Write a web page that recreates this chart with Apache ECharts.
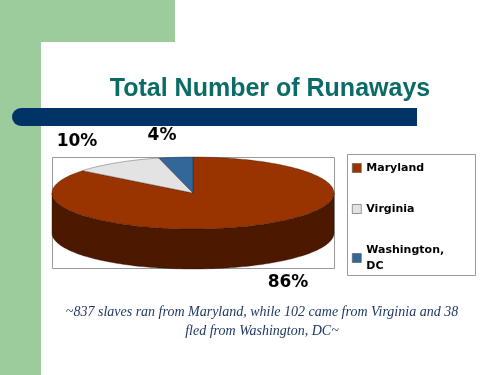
<!DOCTYPE html>
<html>
<head>
<meta charset="utf-8">
<script src="https://cdn.jsdelivr.net/npm/echarts@6/dist/echarts.min.js"></script>
<style>html,body{margin:0;padding:0;background:#fff}#c{width:500px;height:375px}</style>
</head>
<body>
<div id="c"></div>
<script>
const titleText = 'Total Number of Runaways';
const categories = ['Maryland', 'Virginia', 'Washington, DC'];
const runaways = [837, 102, 38];
const captionText = '~837 slaves ran from Maryland, while 102 came from Virginia and 38\nfled from Washington, DC~';

const topColors = ['#993300', '#E3E3E3', '#336699'];
const sideColors = ['#4C1900', '#9C9C9C', '#1F4A75'];

const total = runaways.reduce((a, b) => a + b, 0);
const pct = runaways.map(v => Math.round(v / total * 100) + '%');

const PIE = { cx: 193, cy: 193, rx: 141, ry: 36, depth: 40 };

function ellPt(a, dy) {
  return [PIE.cx + PIE.rx * Math.cos(a), PIE.cy + dy + PIE.ry * Math.sin(a)];
}
function arcPts(a0, a1, dy) {
  const pts = [];
  const n = Math.max(2, Math.ceil(Math.abs(a1 - a0) / (Math.PI / 180)));
  for (let k = 0; k <= n; k++) pts.push(ellPt(a0 + (a1 - a0) * k / n, dy));
  return pts;
}

function renderSlice(params, api) {
  const i = params.seriesIndex;
  let cum = 0;
  for (let j = 0; j < i; j++) cum += runaways[j];
  const v = api.value(0);
  const start = -Math.PI / 2 + 2 * Math.PI * cum / total;
  const end = start + 2 * Math.PI * v / total;
  const children = [];
  [[0, Math.PI], [2 * Math.PI, 3 * Math.PI], [-2 * Math.PI, -Math.PI]].forEach(([lo, hi]) => {
    const a = Math.max(lo, start), b = Math.min(hi, end);
    if (b > a) {
      const topArc = arcPts(a, b, 0);
      const botArc = arcPts(a, b, PIE.depth).reverse();
      children.push({
        type: 'polygon',
        shape: { points: topArc.concat(botArc) },
        style: { fill: sideColors[i], stroke: 'rgba(30,10,0,0.6)', lineWidth: 0.6 }
      });
    }
  });
  const topPts = [[PIE.cx, PIE.cy]].concat(arcPts(start, end, 0));
  children.push({
    type: 'polygon',
    shape: { points: topPts },
    style: { fill: topColors[i], stroke: 'rgba(40,20,10,0.55)', lineWidth: 0.6 }
  });
  return { type: 'group', children: children };
}

const series = categories.map((name, i) => ({
  type: 'custom',
  name: name,
  coordinateSystem: 'none',
  renderItem: renderSlice,
  itemStyle: { color: topColors[i] },
  data: [[runaways[i]]],
  z: 5,
  silent: true
}));

const labelPos = [[288, 283], [77, 142], [162, 136]];

const chart = echarts.init(document.getElementById('c'), null, { renderer: 'canvas' });
chart.setOption({
  animation: false,
  backgroundColor: '#ffffff',
  graphic: [
    { type: 'rect', z: 0, shape: { x: 0, y: 0, width: 175, height: 42 }, style: { fill: '#9CCC9C' } },
    { type: 'rect', z: 0, shape: { x: 0, y: 0, width: 41, height: 375 }, style: { fill: '#9CCC9C' } },
    { type: 'rect', z: 1, shape: { x: 41, y: 42, width: 470, height: 340, r: [16, 0, 0, 0] }, style: { fill: '#ffffff' } },
    { type: 'rect', z: 2, shape: { x: 12, y: 108, width: 405, height: 18, r: [9, 0, 0, 9] }, style: { fill: '#003366' } },
    { type: 'text', z: 3, x: 270, y: 89, style: { text: titleText, fill: '#0B6B66', font: 'bold 25px "Liberation Sans", Arial, sans-serif', align: 'center', verticalAlign: 'middle' } },
    { type: 'rect', z: 2, shape: { x: 52.5, y: 157.5, width: 282, height: 111 }, style: { fill: 'none', stroke: '#9A9A9A', lineWidth: 1 } },
    { type: 'rect', z: 2, shape: { x: 347.5, y: 154.5, width: 128, height: 121 }, style: { fill: '#ffffff', stroke: '#9A9A9A', lineWidth: 1 } },
    ...pct.map((t, i) => ({
      type: 'text', z: 6, x: labelPos[i][0], y: labelPos[i][1],
      style: { text: t, fill: '#000', font: 'bold 17px "DejaVu Sans", Verdana, sans-serif', align: 'center', verticalAlign: 'middle' }
    })),
    { type: 'text', z: 6, x: 262, y: 322, style: { text: captionText, fill: '#1F3864', font: 'italic 14px "Liberation Serif", "Times New Roman", serif', align: 'center', verticalAlign: 'middle', lineHeight: 19 } }
  ],
  legend: {
    data: categories,
    orient: 'vertical',
    left: 352,
    top: 160,
    itemGap: 25,
    itemWidth: 9,
    itemHeight: 9,
    icon: 'rect',
    selectedMode: false,
    padding: 0,
    z: 7,
    itemStyle: { borderColor: '#555', borderWidth: 0.6 },
    formatter: n => n.replace(', ', ',\n'),
    textStyle: { fontFamily: '"DejaVu Sans", Verdana, sans-serif', fontWeight: 'bold', fontSize: 11, lineHeight: 16, color: '#000' }
  },
  series: series
});
</script>
</body>
</html>
